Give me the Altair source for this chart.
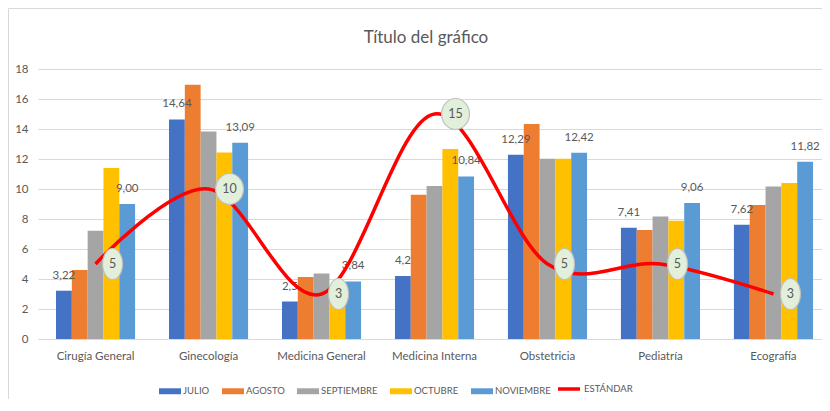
import altair as alt
import pandas as pd

titulo = ["Título del gráfico"]
categorias = ["Cirugía General", "Ginecología", "Medicina General", "Medicina Interna",
              "Obstetricia", "Pediatría", "Ecografía"]
meses = ["JULIO", "AGOSTO", "SEPTIEMBRE", "OCTUBRE", "NOVIEMBRE"]
julio = [3.22, 14.64, 2.5, 4.2, 12.29, 7.41, 7.62]
agosto = [4.60, 16.95, 4.13, 9.62, 14.33, 7.27, 8.93]
septiembre = [7.22, 13.84, 4.36, 10.20, 12.02, 8.16, 10.16]
octubre = [11.40, 12.44, 3.50, 12.67, 12.02, 7.89, 10.40]
noviembre = [9.00, 13.09, 3.84, 10.84, 12.42, 9.06, 11.82]
etiquetas_julio = ["3,22", "14,64", "2,5", "4,2", "12,29", "7,41", "7,62"]
etiquetas_noviembre = ["9,00", "13,09", "3,84", "10,84", "12,42", "9,06", "11,82"]
estandar = [5, 10, 3, 15, 5, 5, 3]
serie_linea = "ESTÁNDAR"
colores = ["#4472C4", "#ED7D31", "#A5A5A5", "#FFC000", "#5B9BD5"]
color_linea = "#FF0000"

rows = []
for mes, vals in zip(meses, [julio, agosto, septiembre, octubre, noviembre]):
    for c, v in zip(categorias, vals):
        rows.append({"categoria": c, "mes": mes, "valor": v})
bars_df = pd.DataFrame(rows)
lab_rows = []
for mes, vals, labs in [("JULIO", julio, etiquetas_julio),
                        ("NOVIEMBRE", noviembre, etiquetas_noviembre)]:
    for c, v, l in zip(categorias, vals, labs):
        lab_rows.append({"categoria": c, "mes": mes, "valor": v, "lbl": l})
lab_df = pd.DataFrame(lab_rows)
std_df = pd.DataFrame({"categoria": categorias, "valor": estandar,
                       "lbl": [str(v) for v in estandar],
                       "serie": [serie_linea] * len(categorias)})

FONT = "Lato, sans-serif"
GRAY = "#595959"
GRID = "#D9D9D9"
W, H = 784, 270

LEG_SHAPE = "M -1 -0.27 L 1 -0.27 L 1 0.27 L -1 0.27 Z"
ELL1 = "M -0.645 0 A 0.645 1 0 1 0 0.645 0 A 0.645 1 0 1 0 -0.645 0 Z"
ELL2 = "M -0.9 0 A 0.9 1 0 1 0 0.9 0 A 0.9 1 0 1 0 -0.9 0 Z"

x = alt.X("categoria:N", sort=categorias,
          scale=alt.Scale(paddingInner=0.3, paddingOuter=0.1195, align=0.667),
          axis=alt.Axis(title=None, labelAngle=0, ticks=False, domain=True,
                        domainColor=GRID, labelPadding=11, grid=False))
y = alt.Y("valor:Q", scale=alt.Scale(domain=[0, 18], nice=False),
          axis=alt.Axis(title=None, values=list(range(0, 19, 2)), ticks=False,
                        domain=False, grid=True, gridColor=GRID, labelPadding=10))
xo = alt.XOffset("mes:N", sort=meses,
                 scale=alt.Scale(domain=meses, paddingInner=0, paddingOuter=0))
leg = alt.Legend(title=None, orient="none", legendX=121, legendY=311,
                 direction="horizontal", symbolType=LEG_SHAPE, symbolSize=484,
                 symbolStrokeWidth=0, labelFontSize=9.5, labelColor=GRAY,
                 labelFont=FONT, columnPadding=12, labelOffset=2)
color = alt.Color("mes:N", scale=alt.Scale(domain=meses, range=colores), legend=leg)
leg_line = alt.Legend(title=None, orient="none", legendX=518, legendY=307,
                      direction="horizontal", symbolType="stroke", symbolSize=484,
                      symbolStrokeWidth=3.5, labelFontSize=9.5, labelColor=GRAY,
                      labelFont=FONT, labelOffset=2)
stroke = alt.Stroke("serie:N", scale=alt.Scale(domain=[serie_linea], range=[color_linea]),
                    legend=leg_line)

frame = alt.Chart(pd.DataFrame({"k": [0]})).mark_rect(
    fillOpacity=0, stroke=GRID, strokeWidth=1).encode(
    x=alt.value(-29.5), x2=alt.value(W + 40), y=alt.value(-60.5), y2=alt.value(H + 120))

title_txt = alt.Chart(pd.DataFrame({"t": titulo})).mark_text(
    fontSize=17, color=GRAY, font=FONT, baseline="alphabetic", align="center").encode(
    x=alt.value(W / 2 - 4), y=alt.value(-26), text="t:N")

bars = alt.Chart(bars_df).mark_bar().encode(x=x, y=y, xOffset=xo, color=color)
labels = alt.Chart(lab_df).mark_text(dy=-15, fontSize=11.5, color=GRAY, font=FONT).encode(
    x=x, y=y, xOffset=xo, text="lbl:N")

line = alt.Chart(std_df).mark_line(strokeWidth=3.5, interpolate="cardinal",
                                   tension=0).encode(x=x, y=y, stroke=stroke)

std = alt.Chart(std_df)
e1 = std.transform_filter("length(datum.lbl) == 1").mark_point(
    shape=ELL1, size=961, filled=True, fill="#E2EFDA", fillOpacity=1,
    stroke="#BFBFBF", strokeWidth=1.2, strokeOpacity=1, xOffset=17).encode(x=x, y=y)
e2 = std.transform_filter("length(datum.lbl) > 1").mark_point(
    shape=ELL2, size=961, filled=True, fill="#E2EFDA", fillOpacity=1,
    stroke="#BFBFBF", strokeWidth=1.2, strokeOpacity=1, xOffset=21).encode(x=x, y=y)
l1 = std.transform_filter("length(datum.lbl) == 1").mark_text(
    xOffset=17, fontSize=12.5, color=GRAY, font=FONT).encode(x=x, y=y, text="lbl:N")
l2 = std.transform_filter("length(datum.lbl) > 1").mark_text(
    xOffset=21, fontSize=12.5, color=GRAY, font=FONT).encode(x=x, y=y, text="lbl:N")

chart = alt.layer(frame, title_txt, bars, labels, line, e1, e2, l1, l2).properties(
    width=W, height=H,
    autosize=alt.AutoSizeParams(type="none"),
    padding={"left": 30, "top": 61, "right": 0, "bottom": 60},
).configure_view(stroke=None).configure_axis(
    labelFont=FONT, labelFontSize=11.5, labelColor=GRAY
)

chart.save("out.html", embed_options={"renderer": "svg", "actions": False})
